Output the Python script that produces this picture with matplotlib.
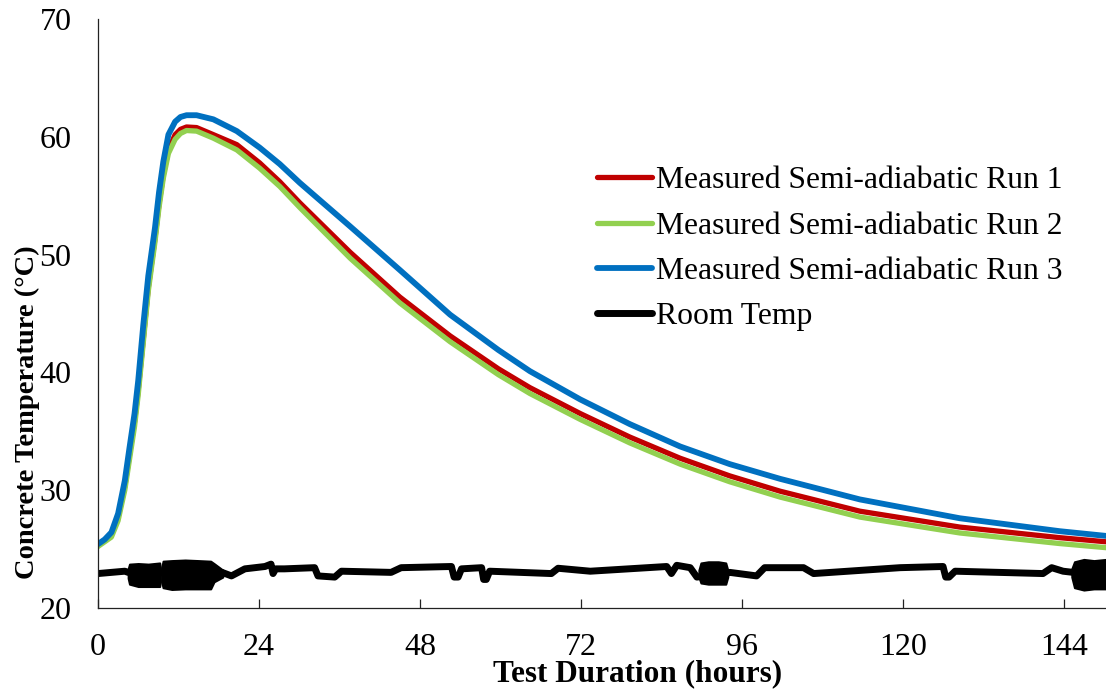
import numpy as np
import matplotlib
matplotlib.use("Agg")
import matplotlib.pyplot as plt

plt.rcParams['font.family'] = ['Liberation Serif', 'DejaVu Serif']

# hours
hours = [0, 1, 2, 3, 4, 4.7, 5.45, 6, 6.75, 7.5, 8.5, 9.1, 9.74, 10.5, 11.5, 12.3,
         13.2, 14.7, 17.2, 20.7, 24.1, 27.1, 30.1, 37.6, 45, 52.5, 59.7, 64.4,
         71.9, 79.3, 86.8, 94.2, 101.7, 113.6, 128.5, 143.4, 150.3]

run1 = [25.3, 25.7, 26.2, 27.7, 30.3, 33.0, 35.8, 38.5, 42.8, 47.2, 51.4, 54.3,
        56.8, 58.9, 60.2, 60.65, 60.85, 60.8, 60.2, 59.35, 57.8, 56.2, 54.4, 50.2,
        46.4, 43.1, 40.3, 38.7, 36.5, 34.5, 32.7, 31.2, 29.9, 28.2, 26.85, 25.95, 25.6]
run2 = [25.2, 25.6, 26.0, 27.4, 30.0, 32.6, 35.4, 38.1, 42.5, 46.9, 51.1, 54.0,
        56.5, 58.6, 59.8, 60.3, 60.55, 60.5, 59.9, 58.9, 57.35, 55.8, 54.0, 49.7,
        45.9, 42.6, 39.8, 38.2, 36.0, 34.0, 32.2, 30.7, 29.4, 27.7, 26.35, 25.45, 25.1]
run3 = [25.4, 25.8, 26.4, 28.0, 30.8, 33.6, 36.5, 39.3, 44.0, 48.2, 52.3, 55.3,
        57.9, 60.2, 61.3, 61.7, 61.85, 61.85, 61.5, 60.5, 59.1, 57.7, 56.1, 52.4,
        48.7, 44.9, 41.9, 40.1, 37.7, 35.6, 33.7, 32.2, 30.95, 29.2, 27.6, 26.5, 26.1]

room_hours = [0, 4, 4.5, 17.4, 18.5, 19.9, 21.9, 24.9, 25.8, 26.1, 26.5, 27.8, 32.3,
              32.8, 35.3, 36.3, 43.7, 45.2, 52.7, 53.1, 53.7, 54.2, 57.2, 57.5,
              57.9, 58.4, 67.6, 68.6, 73.4, 84.8, 85.5, 86.3, 88.3, 89.3, 93.7,
              94.2, 98.2, 99.4, 105.2, 106.7, 119.6, 126.0, 126.4, 126.9, 127.8,
              140.9, 142.2, 143.9, 145.4, 150.3]
room_temp = [22.9, 23.1, 23.0, 22.9, 23.0, 22.7, 23.3, 23.5, 23.7, 22.9, 23.3, 23.3,
             23.4, 22.7, 22.6, 23.1, 23.0, 23.4, 23.5, 22.6, 22.6, 23.3, 23.4,
             22.4, 22.4, 23.1, 22.9, 23.35, 23.1, 23.5, 22.9, 23.6, 23.4, 22.6,
             22.9, 23.0, 22.7, 23.4, 23.4, 22.9, 23.4, 23.5, 22.6, 22.6, 23.1,
             22.9, 23.4, 23.1, 23.0, 23.0]

# fluctuation bands of the room sensor: hours, upper, lower
band_a_hours = [4.5, 4.7, 6, 7.5, 9.2, 9.3]
band_a_hi = [23.3, 23.7, 23.75, 23.7, 23.8, 23.4]
band_a_lo = [22.5, 22.0, 21.8, 21.8, 21.8, 22.2]
band_b_hours = [9.5, 9.7, 11, 13, 15, 16.8, 17.3, 18.6]
band_b_hi = [23.4, 23.95, 24.0, 24.05, 24.0, 23.95, 23.75, 23.2]
band_b_lo = [22.2, 21.7, 21.55, 21.6, 21.6, 21.6, 22.2, 22.6]
band_c_hours = [89.6, 89.9, 91, 92.5, 93.6, 93.9]
band_c_hi = [23.2, 23.8, 23.9, 23.9, 23.8, 23.2]
band_c_lo = [22.6, 22.1, 22.0, 22.0, 22.0, 22.6]
band_d_hours = [145.2, 145.6, 147, 148.5, 150.3]
band_d_hi = [23.3, 23.9, 24.1, 24.0, 24.1]
band_d_lo = [22.6, 21.7, 21.5, 21.6, 21.6]

xticks = [0, 24, 48, 72, 96, 120, 144]
yticks = [20, 30, 40, 50, 60, 70]

fig = plt.figure(figsize=(11.06, 6.90), dpi=100)
ax = fig.add_axes([0.0886, 0.1193, 0.9114, 0.8527])

ax.plot(hours, run1, color='#C00000', lw=3.8, label='Measured Semi-adiabatic Run 1', solid_capstyle='round')
ax.plot(hours, run2, color='#92D050', lw=3.8, label='Measured Semi-adiabatic Run 2', solid_capstyle='round')
ax.plot(hours, run3, color='#0070C0', lw=4.2, label='Measured Semi-adiabatic Run 3', solid_capstyle='round')
ax.plot(room_hours, room_temp, color='black', lw=5, label='Room Temp', solid_capstyle='round')
for bh, hi, lo in [(band_a_hours, band_a_hi, band_a_lo), (band_b_hours, band_b_hi, band_b_lo),
                   (band_c_hours, band_c_hi, band_c_lo), (band_d_hours, band_d_hi, band_d_lo)]:
    ax.fill_between(bh, lo, hi, color='black', lw=1.5)

ax.set_xlim(0, 150.3)
ax.set_ylim(20, 70)
ax.set_xticks(xticks)
ax.set_yticks(yticks)
ax.spines['top'].set_visible(False)
ax.spines['right'].set_visible(False)
for s in ['left', 'bottom']:
    ax.spines[s].set_linewidth(0.9)
    ax.spines[s].set_color('#222222')
ax.tick_params(axis='x', direction='in', length=6.5, width=0.9, color='#222222', pad=18, labelsize=23)
ax.tick_params(axis='y', length=0, pad=19, labelsize=23)

fig.text(0.5764, 0.002, 'Test Duration (hours)', ha='center', va='bottom', fontsize=22.5, fontweight='bold')
fig.text(0.025, 0.403, 'Concrete Temperature (°C)', ha='center', va='center', rotation=90,
         fontsize=20.5, fontweight='bold')

ax.legend(loc='upper left', bbox_to_anchor=(0.540, 0.759), bbox_transform=fig.transFigure,
          frameon=False, fontsize=22.8, handlelength=1.72, handletextpad=0.15,
          labelspacing=0.505, borderpad=0, borderaxespad=0)

fig.savefig('out.png', dpi=100)
